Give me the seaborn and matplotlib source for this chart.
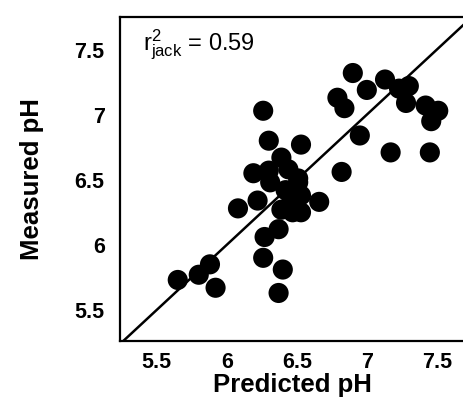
import matplotlib
matplotlib.use("Agg")
import matplotlib.pyplot as plt
import seaborn as sns
import pandas as pd

predicted = [6.90, 6.79, 6.84, 7.00, 7.13, 7.23, 7.30, 7.28, 7.42, 7.51, 7.46, 6.95, 7.17, 7.45, 6.82,
             6.26, 6.30, 6.53, 6.39, 6.19, 6.30, 6.51, 6.31, 6.51, 6.08, 6.22, 6.46, 6.66, 6.47, 6.39,
             6.37, 6.27, 6.26, 6.40, 6.37, 6.42, 6.53, 6.46, 6.53, 6.44,
             5.65, 5.80, 5.88, 5.92]
measured = [7.32, 7.13, 7.05, 7.19, 7.27, 7.20, 7.22, 7.09, 7.07, 7.03, 6.95, 6.84, 6.71, 6.71, 6.56,
            7.03, 6.80, 6.77, 6.67, 6.55, 6.57, 6.51, 6.48, 6.48, 6.28, 6.34, 6.37, 6.33, 6.25, 6.27,
            6.12, 6.06, 5.90, 5.81, 5.63, 6.42, 6.38, 6.31, 6.25, 6.58,
            5.73, 5.77, 5.85, 5.67]
xticks = [5.5, 6, 6.5, 7, 7.5]
yticks = [5.5, 6, 6.5, 7, 7.5]
xticklabels = ["5.5", "6", "6.5", "7", "7.5"]
yticklabels = ["5.5", "6", "6.5", "7", "7.5"]

sns.set_style("white")
plt.rcParams['font.family'] = ['Liberation Sans', 'DejaVu Sans']
plt.rcParams['mathtext.fontset'] = 'custom'
plt.rcParams['mathtext.rm'] = 'Liberation Sans'
plt.rcParams['mathtext.it'] = 'Liberation Sans'
plt.rcParams['mathtext.bf'] = 'Liberation Sans:bold'
plt.rcParams['text.color'] = 'black'
plt.rcParams['axes.labelcolor'] = 'black'

df = pd.DataFrame({"Predicted pH": predicted, "Measured pH": measured})

fig = plt.figure(figsize=(4.63, 4.16), dpi=100)
ax = fig.add_axes([0.259, 0.180, 0.745, 0.779])
sns.scatterplot(data=df, x="Predicted pH", y="Measured pH", ax=ax,
                color="black", s=210, edgecolor="none", linewidth=0, zorder=3)

xlim = (5.237, 7.70)
ylim = (5.26, 7.75)
ax.plot([5.2, 7.8], [5.2, 7.8], color="black", lw=1.8, zorder=2)
ax.set_xlim(*xlim)
ax.set_ylim(*ylim)

ax.set_xticks(xticks)
ax.set_xticklabels(xticklabels)
ax.set_yticks(yticks)
ax.set_yticklabels(yticklabels)
ax.tick_params(axis="both", direction="out", labelsize=15.5, colors="black", width=1.2)
ax.tick_params(axis="y", length=5, pad=6)
ax.tick_params(axis="x", length=3, pad=5)
for lab in ax.get_xticklabels() + ax.get_yticklabels():
    lab.set_fontweight("bold")

for side in ["left", "bottom", "top", "right"]:
    ax.spines[side].set_visible(True)
    ax.spines[side].set_color("black")
    ax.spines[side].set_linewidth(1.6)

ax.set_xlabel("Predicted pH", fontsize=18.5, fontweight="bold", labelpad=0)
ax.set_ylabel("Measured pH", fontsize=18.5, fontweight="bold", labelpad=22)

ax.text(0.066, 0.915, r"r$^{2}_{\rm jack}$ = 0.59", transform=ax.transAxes,
        fontsize=17, va="center", ha="left", color="black")

fig.savefig("out.png", dpi=100)
